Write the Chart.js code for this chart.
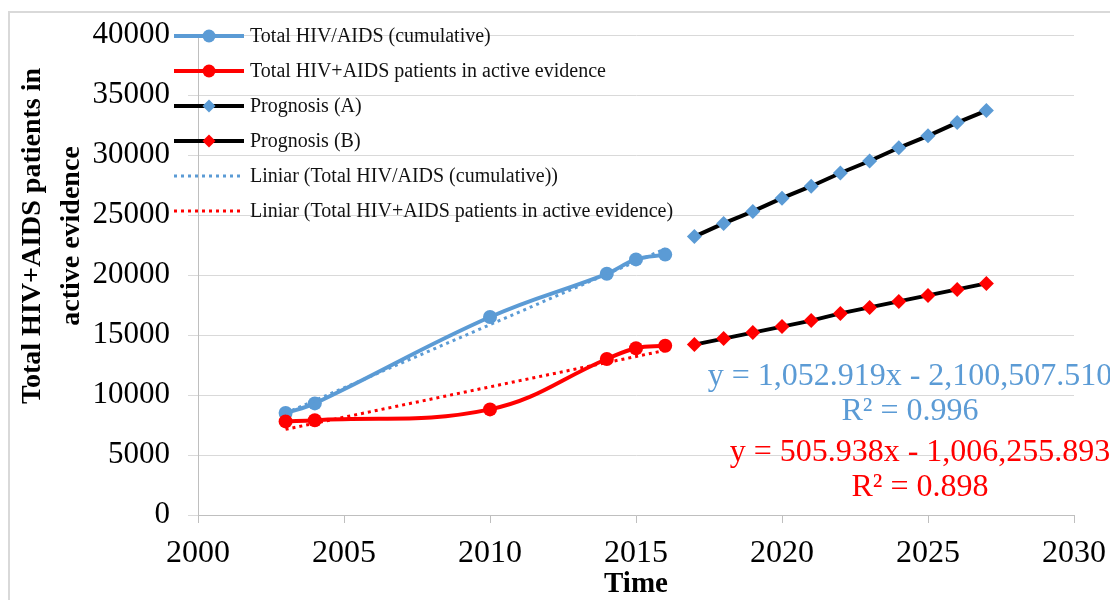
<!DOCTYPE html>
<html><head><meta charset="utf-8">
<script src="https://cdn.jsdelivr.net/npm/chart.js@4.4.1/dist/chart.umd.min.js"></script>
<style>html,body{margin:0;padding:0;background:#fff;}#wrap{position:relative;width:1110px;height:600px;overflow:hidden;}</style>
</head><body><div id="wrap"><canvas id="c" width="1110" height="600"></canvas></div>
<script>
// ---- data ----
const years = [2003, 2004, 2010, 2014, 2015, 2016];
const cumulative = [8500, 9300, 16500, 20100, 21300, 21700];
const active = [7800, 7900, 8800, 13000, 13900, 14100];
const prognosisYears = [2017, 2018, 2019, 2020, 2021, 2022, 2023, 2024, 2025, 2026, 2027];
const prognosisA = [23200, 24300, 25300, 26400, 27400, 28500, 29500, 30600, 31600, 32700, 33700];
const prognosisB = [14200, 14700, 15200, 15700, 16200, 16800, 17300, 17800, 18300, 18800, 19300];
const trendYears = [2003, 2016];
const trendCumulative = [8489, 22177];
const trendActive = [7138, 13715];
const xTickValues = [2000, 2005, 2010, 2015, 2020, 2025, 2030];
const yTickValues = [0, 5000, 10000, 15000, 20000, 25000, 30000, 35000, 40000];
const seriesLabels = [
  'Total HIV/AIDS (cumulative)',
  'Total HIV+AIDS patients in active evidence',
  'Prognosis (A)',
  'Prognosis (B)',
  'Liniar (Total HIV/AIDS (cumulative))',
  'Liniar (Total HIV+AIDS patients in active evidence)'
];
const equationBlue = ['y = 1,052.919x - 2,100,507.510', 'R\u00B2 = 0.996'];
const equationRed = ['y = 505.938x - 1,006,255.893', 'R\u00B2 = 0.898'];
const yTitle = ['Total HIV+AIDS patients in', 'active evidence'];
const xTitle = 'Time';

const BLUE = '#5b9bd5', RED = '#ff0000', BLACK = '#000000';
const SERIF = '"Liberation Serif", "Times New Roman", serif';
const pts = (xs, ys) => xs.map((x, i) => ({x: x, y: ys[i]}));

const datasets = [
  {label: seriesLabels[0], data: pts(years, cumulative), borderColor: BLUE, backgroundColor: BLUE, borderWidth: 4,
   pointStyle: 'circle', pointRadius: 7, pointBorderWidth: 0, tension: 0.4, order: 2},
  {label: seriesLabels[1], data: pts(years, active), borderColor: RED, backgroundColor: RED, borderWidth: 4,
   pointStyle: 'circle', pointRadius: 7, pointBorderWidth: 0, tension: 0.4, order: 1},
  {label: seriesLabels[2], data: pts(prognosisYears, prognosisA), borderColor: BLACK, backgroundColor: BLUE, borderWidth: 4,
   pointStyle: 'rectRot', pointRadius: 7.5, pointBorderWidth: 0, tension: 0, order: 4},
  {label: seriesLabels[3], data: pts(prognosisYears, prognosisB), borderColor: BLACK, backgroundColor: RED, borderWidth: 4,
   pointStyle: 'rectRot', pointRadius: 7.5, pointBorderWidth: 0, tension: 0, order: 3},
  {label: seriesLabels[4], data: pts(trendYears, trendCumulative), borderColor: BLUE, backgroundColor: BLUE, borderWidth: 3,
   borderDash: [3, 4], pointRadius: 0, tension: 0, order: 0},
  {label: seriesLabels[5], data: pts(trendYears, trendActive), borderColor: RED, backgroundColor: RED, borderWidth: 3,
   borderDash: [3, 4], pointRadius: 0, tension: 0, order: 0}
];

const overlay = {
  id: 'overlay',
  beforeDraw(chart) {
    const ctx = chart.ctx;
    ctx.save();
    ctx.fillStyle = '#ffffff';
    ctx.fillRect(0, 0, chart.width, chart.height);
    ctx.strokeStyle = '#d9d9d9';
    ctx.lineWidth = 2;
    ctx.strokeRect(9, 12, 1130, 620);
    ctx.restore();
  },
  afterDraw(chart) {
    const ctx = chart.ctx;
    ctx.save();
    // legend
    chart.data.datasets.forEach((ds, i) => {
      const y = 36 + 35 * i;
      ctx.save();
      ctx.strokeStyle = ds.borderColor;
      ctx.lineWidth = ds.borderWidth;
      ctx.setLineDash(ds.borderDash || []);
      ctx.beginPath();
      ctx.moveTo(174, y);
      ctx.lineTo(244, y);
      ctx.stroke();
      ctx.restore();
      if (ds.pointRadius > 0) {
        ctx.save();
        ctx.fillStyle = ds.backgroundColor;
        ctx.strokeStyle = ds.backgroundColor;
        Chart.helpers.drawPoint(ctx, {pointStyle: ds.pointStyle, rotation: 0, radius: 6.5, borderWidth: 0}, 209, y);
        ctx.restore();
      }
      ctx.fillStyle = '#111';
      ctx.font = '20px ' + SERIF;
      ctx.textAlign = 'left';
      ctx.textBaseline = 'middle';
      ctx.fillText(ds.label, 250, y + 1);
    });
    // trendline equations
    ctx.font = '32px ' + SERIF;
    ctx.textAlign = 'center';
    ctx.textBaseline = 'middle';
    ctx.fillStyle = BLUE;
    ctx.fillText(equationBlue[0], 910, 377);
    ctx.fillText(equationBlue[1], 910, 412);
    ctx.fillStyle = RED;
    ctx.fillText(equationRed[0], 920, 453);
    ctx.fillText(equationRed[1], 920, 488);
    // y axis title
    ctx.fillStyle = '#000';
    ctx.font = 'bold 28px ' + SERIF;
    ctx.textAlign = 'center';
    ctx.textBaseline = 'middle';
    [33, 72].forEach((x, k) => {
      ctx.save();
      ctx.translate(x, 236);
      ctx.rotate(-Math.PI / 2);
      ctx.fillText(yTitle[k], 0, 0);
      ctx.restore();
    });
    ctx.restore();
  }
};

new Chart(document.getElementById('c'), {
  type: 'scatter',
  data: {datasets: datasets.map(d => Object.assign({showLine: true, fill: false}, d))},
  options: {
    responsive: false,
    animation: false,
    devicePixelRatio: 1,
    layout: {padding: {left: 0, right: 36, top: 35, bottom: 0}},
    plugins: {legend: {display: false}, tooltip: {enabled: false}, title: {display: false}},
    scales: {
      x: {
        type: 'linear', min: 2000, max: 2030,
        afterBuildTicks: s => { s.ticks = xTickValues.map(v => ({value: v})); },
        afterFit: s => { s.height = 85; s.paddingLeft = 0; s.paddingRight = 0; },
        grid: {drawOnChartArea: false, drawTicks: true, tickLength: 8, color: '#bfbfbf', lineWidth: 1},
        border: {display: true, color: '#bfbfbf', width: 1},
        ticks: {color: '#000', font: {family: SERIF, size: 32}, padding: 11, maxRotation: 0, callback: v => String(v)},
        title: {display: true, text: xTitle, color: '#000', font: {family: SERIF, size: 29, weight: 'bold', lineHeight: 1}, padding: {top: 0, bottom: 1}}
      },
      y: {
        type: 'linear', min: 0, max: 40000,
        afterBuildTicks: s => { s.ticks = yTickValues.map(v => ({value: v})); },
        afterFit: s => { s.width = 198; s.paddingTop = 0; s.paddingBottom = 0; },
        grid: {color: '#d9d9d9', lineWidth: 1, drawTicks: true, tickLength: 10},
        border: {display: true, color: '#bfbfbf', width: 1},
        ticks: {color: '#000', font: {family: SERIF, size: 31}, padding: 18, callback: v => String(v)}
      }
    }
  },
  plugins: [overlay]
});
</script></body></html>
